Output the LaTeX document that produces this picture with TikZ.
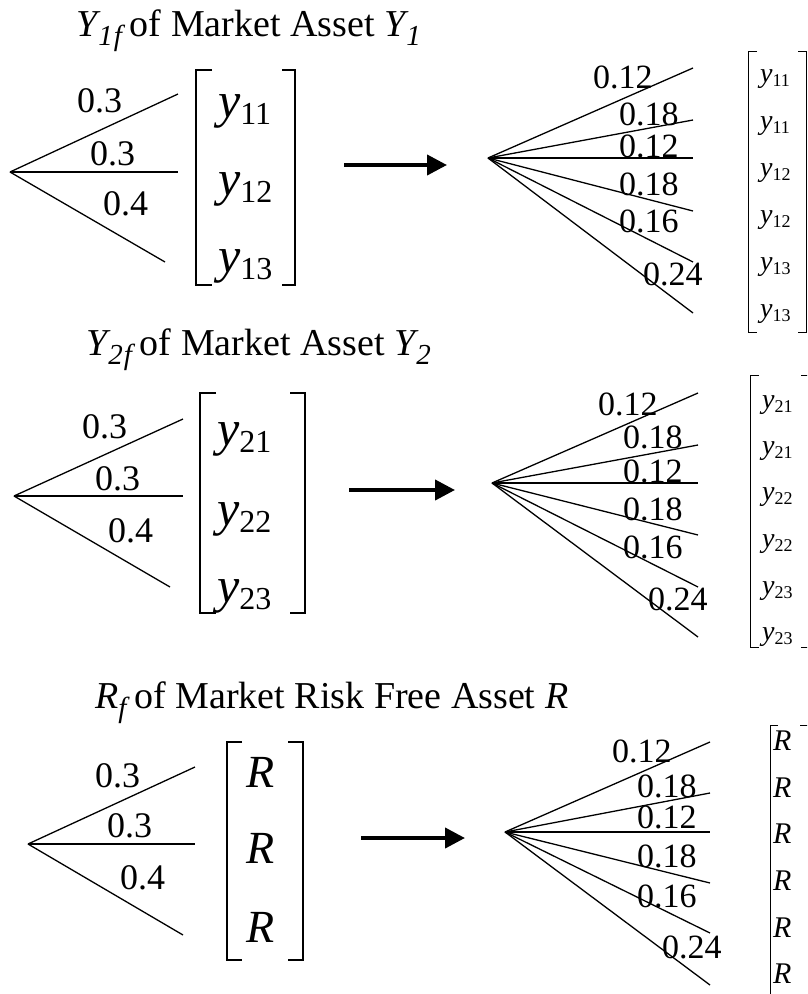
\documentclass[tikz,border=0pt]{standalone}
\usepackage{fontspec}
\setmainfont{Liberation Serif}
\usetikzlibrary{arrows.meta}
\newcommand{\fsz}[1]{\fontsize{#1}{#1}\selectfont}
\newcommand{\bigy}[1]{{\fsz{50}\itshape y}\raisebox{-7pt}{\fsz{32}#1}}
\newcommand{\smy}[1]{{\fsz{28}\itshape y}\raisebox{-4pt}{\fsz{18}#1}}
\newcommand{\tsub}[1]{\raisebox{-9pt}{\fsz{29}\itshape #1}}
\tikzset{
  branch/.style={line width=1.3pt},
  bigbr/.style={line width=2.5pt},
  smbr/.style={line width=1pt},
  lab/.style={anchor=base west, inner sep=0pt, font=\fsz{36}},
  rlab/.style={anchor=base west, inner sep=0pt, font=\fsz{34}},
  ttl/.style={anchor=base west, inner sep=0pt, font=\fsz{38}},
  ent/.style={anchor=base west, inner sep=0pt},
  bigarrow/.style={line width=4pt, -{Triangle[length=20pt,width=20pt]}}
}
\begin{document}
\begin{tikzpicture}[x=1pt,y=-1pt]
\useasboundingbox (0,0) rectangle (807,994);
\clip (0,0) rectangle (807,994);
% ================= Panel 1 =================
\node[ttl] (t1) at (76,36) {{\itshape Y}\hspace{1pt}\tsub{1\kern1pt f}\hspace{8pt}of Market Asset {\itshape Y}\hspace{1pt}\tsub{1}};
\coordinate (a1) at (10,172);
\coordinate (a1u) at (178,94);
\coordinate (a1m) at (178,172);
\coordinate (a1d) at (165,262);
\draw[branch] (a1) -- (a1u);
\draw[branch] (a1) -- (a1m);
\draw[branch] (a1) -- (a1d);
\node[lab] (l1a) at (77,112) {0.3};
\node[lab] (l1b) at (90,165) {0.3};
\node[lab] (l1c) at (103,215) {0.4};
\draw[bigbr] (212,70) -- (196,70) -- (196,285) -- (212,285);
\draw[bigbr] (282,70) -- (295,70) -- (295,285) -- (282,285);
\node[ent] (e11) at (218,117) {\bigy{11}};
\node[ent] (e12) at (218,195) {\bigy{12}};
\node[ent] (e13) at (218,272) {\bigy{13}};
\coordinate (p1s) at (344,165);
\coordinate (p1e) at (447,165);
\draw[bigarrow] (p1s) -- (p1e);
\coordinate (b1) at (488,158);
\coordinate (b1a) at (693,68);
\coordinate (b1b) at (693,120);
\coordinate (b1c) at (693,158);
\coordinate (b1d) at (693,211);
\coordinate (b1e) at (693,262);
\coordinate (b1f) at (693,313);
\foreach \e in {b1a,b1b,b1c,b1d,b1e,b1f} \draw[branch] (b1) -- (\e);
\node[rlab] (r1a) at (593,88) {0.12};
\node[rlab] (r1b) at (619,125) {0.18};
\node[rlab] (r1c) at (619,157) {0.12};
\node[rlab] (r1d) at (619,195) {0.18};
\node[rlab] (r1e) at (619,232) {0.16};
\node[rlab] (r1f) at (643,285) {0.24};
\draw[smbr] (757,51) -- (748,51) -- (748,332) -- (757,332);
\draw[smbr] (798,51) -- (806,51) -- (806,332) -- (798,332);
\node[ent] (m1a) at (760,82) {\smy{11}};
\node[ent] (m1b) at (760,129) {\smy{11}};
\node[ent] (m1c) at (760,176) {\smy{12}};
\node[ent] (m1d) at (760,223) {\smy{12}};
\node[ent] (m1e) at (760,270) {\smy{13}};
\node[ent] (m1f) at (760,317) {\smy{13}};
% ================= Panel 2 =================
\node[ttl] (t2) at (86,355) {{\itshape Y}\hspace{1pt}\tsub{2\kern1pt f}\hspace{8pt}of Market Asset {\itshape Y}\hspace{1pt}\tsub{2}};
\coordinate (a2) at (14,496);
\coordinate (a2u) at (183,419);
\coordinate (a2m) at (183,496);
\coordinate (a2d) at (170,587);
\draw[branch] (a2) -- (a2u);
\draw[branch] (a2) -- (a2m);
\draw[branch] (a2) -- (a2d);
\node[lab] (l2a) at (82,438) {0.3};
\node[lab] (l2b) at (95,490) {0.3};
\node[lab] (l2c) at (108,542) {0.4};
\draw[bigbr] (216,393) -- (200,393) -- (200,613) -- (216,613);
\draw[bigbr] (290,393) -- (305,393) -- (305,613) -- (290,613);
\node[ent] (e21) at (217,445) {\bigy{21}};
\node[ent] (e22) at (217,525) {\bigy{22}};
\node[ent] (e23) at (217,602) {\bigy{23}};
\coordinate (p2s) at (349,490);
\coordinate (p2e) at (455,490);
\draw[bigarrow] (p2s) -- (p2e);
\coordinate (b2) at (492,483);
\coordinate (b2a) at (698,393);
\coordinate (b2b) at (698,445);
\coordinate (b2c) at (698,483);
\coordinate (b2d) at (698,535);
\coordinate (b2e) at (698,587);
\coordinate (b2f) at (698,637);
\foreach \e in {b2a,b2b,b2c,b2d,b2e,b2f} \draw[branch] (b2) -- (\e);
\node[rlab] (r2a) at (598,415) {0.12};
\node[rlab] (r2b) at (623,448) {0.18};
\node[rlab] (r2c) at (623,482) {0.12};
\node[rlab] (r2d) at (623,520) {0.18};
\node[rlab] (r2e) at (623,558) {0.16};
\node[rlab] (r2f) at (648,610) {0.24};
\draw[smbr] (759,375) -- (750,375) -- (750,647) -- (759,647);
\draw[smbr] (801,375) -- (809,375) -- (809,647) -- (801,647);
\node[ent] (m2a) at (762,408) {\smy{21}};
\node[ent] (m2b) at (762,454) {\smy{21}};
\node[ent] (m2c) at (762,500) {\smy{22}};
\node[ent] (m2d) at (762,547) {\smy{22}};
\node[ent] (m2e) at (762,594) {\smy{23}};
\node[ent] (m2f) at (762,640) {\smy{23}};
% ================= Panel 3 =================
\node[ttl] (t3) at (95,708) {{\itshape R}\tsub{f}\hspace{8pt}of Market Risk Free Asset {\itshape R}};
\coordinate (a3) at (28,844);
\coordinate (a3u) at (195,767);
\coordinate (a3m) at (195,844);
\coordinate (a3d) at (183,935);
\draw[branch] (a3) -- (a3u);
\draw[branch] (a3) -- (a3m);
\draw[branch] (a3) -- (a3d);
\node[lab] (l3a) at (95,787) {0.3};
\node[lab] (l3b) at (107,837) {0.3};
\node[lab] (l3c) at (120,889) {0.4};
\draw[bigbr] (242,742) -- (227,742) -- (227,960) -- (242,960);
\draw[bigbr] (288,742) -- (303,742) -- (303,960) -- (288,960);
\node[ent] (e31) at (246,787) {\fsz{46}\itshape R};
\node[ent] (e32) at (246,863) {\fsz{46}\itshape R};
\node[ent] (e33) at (246,942) {\fsz{46}\itshape R};
\coordinate (p3s) at (361,838);
\coordinate (p3e) at (465,838);
\draw[bigarrow] (p3s) -- (p3e);
\coordinate (b3) at (505,832);
\coordinate (b3a) at (710,742);
\coordinate (b3b) at (710,793);
\coordinate (b3c) at (710,832);
\coordinate (b3d) at (710,883);
\coordinate (b3e) at (710,933);
\coordinate (b3f) at (710,985);
\foreach \e in {b3a,b3b,b3c,b3d,b3e,b3f} \draw[branch] (b3) -- (\e);
\node[rlab] (r3a) at (612,762) {0.12};
\node[rlab] (r3b) at (637,797) {0.18};
\node[rlab] (r3c) at (637,828) {0.12};
\node[rlab] (r3d) at (637,867) {0.18};
\node[rlab] (r3e) at (637,907) {0.16};
\node[rlab] (r3f) at (662,958) {0.24};
\draw[smbr] (778,725) -- (770,725) -- (770,1010);
\draw[smbr] (800,725) -- (809,725) -- (809,1010);
\node[ent] (m3a) at (773,750) {\fsz{30}\itshape R};
\node[ent] (m3b) at (773,797) {\fsz{30}\itshape R};
\node[ent] (m3c) at (773,843) {\fsz{30}\itshape R};
\node[ent] (m3d) at (773,890) {\fsz{30}\itshape R};
\node[ent] (m3e) at (773,937) {\fsz{30}\itshape R};
\node[ent] (m3f) at (773,983) {\fsz{30}\itshape R};
\end{tikzpicture}
\end{document}
